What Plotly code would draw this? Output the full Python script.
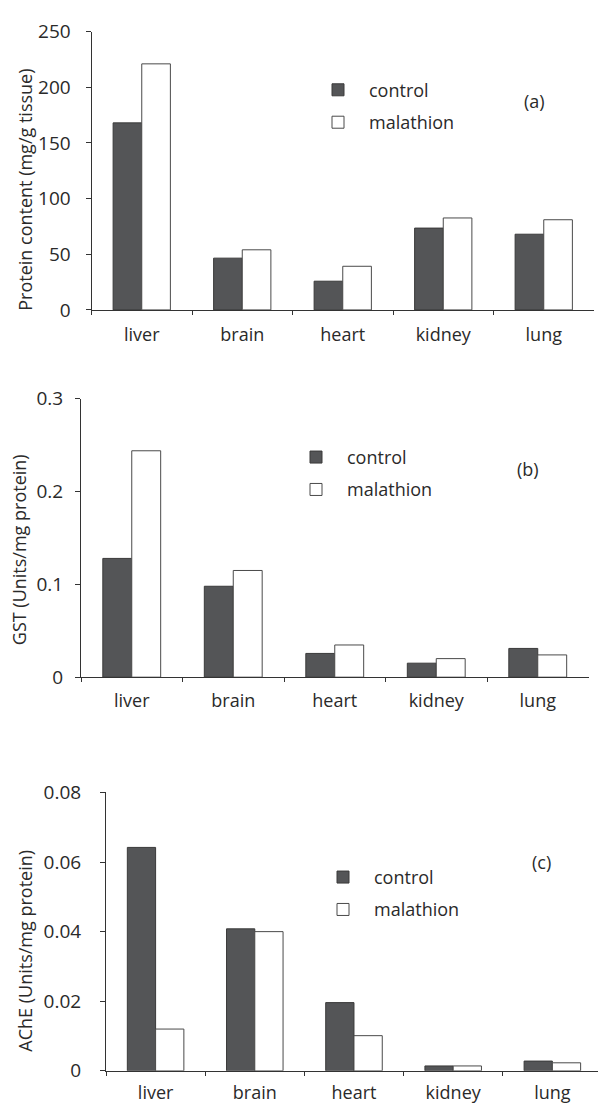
import plotly.graph_objects as go

W, H = 598, 1118

tissues = ["liver", "brain", "heart", "kidney", "lung"]

protein_control = [168, 46.5, 25.8, 73.5, 68]
protein_malathion = [221, 54, 39.2, 82.6, 81]

gst_control = [0.128, 0.098, 0.0256, 0.0151, 0.031]
gst_malathion = [0.244, 0.115, 0.0347, 0.020, 0.024]

ache_control = [0.0642, 0.0408, 0.0196, 0.0014, 0.0028]
ache_malathion = [0.0120, 0.0400, 0.0101, 0.0014, 0.0023]

series_names = ["control", "malathion"]
panel_labels = ["(a)", "(b)", "(c)"]
y_titles = ["Protein content (mg/g tissue)", "GST (Units/mg protein)",
            "AChE (Units/mg protein)"]
y_ticks = [[0, 50, 100, 150, 200, 250], [0, 0.1, 0.2, 0.3],
           [0, 0.02, 0.04, 0.06, 0.08]]

FONT = "Open Sans"
TXT = "#2a2a2a"
CTRL_FILL = "#545557"
CTRL_LINE = "#3a3a3a"
MAL_LINE = "#4a4a4a"
AX = "#333333"


def px(x):
    return x / W


def py(y):
    return 1 - y / H


fig = go.Figure()

panels = [
    (protein_control, protein_malathion),
    (gst_control, gst_malathion),
    (ache_control, ache_malathion),
]

geo = [
    (91.5, 594, 19, 304, 4.5),
    (81, 588.5, 395, 680, 4.5),
    (106, 598, 798, 1083, 4.46),
]
ytick_standoff = [11, 8, 15]
xtick_standoff = [8, 7, 6]
legend_pos = [(307, 60), (285, 436), (312, 866)]
label_pos = [(534, 90), (528, 467), (541, 869)]
ytitle_pos = [(25, 181), (19, 550), (25, 960)]

for i, (ctrl, mal) in enumerate(panels):
    n = "" if i == 0 else str(i + 1)
    lg = "legend" if i == 0 else f"legend{i + 1}"
    fig.add_trace(go.Bar(
        x=tissues, y=ctrl, name=series_names[0], xaxis=f"x{n}", yaxis=f"y{n}",
        marker=dict(color=CTRL_FILL, line=dict(color=CTRL_LINE, width=1)),
        legend=lg, legendgroup=f"c{i}", showlegend=True))
    fig.add_trace(go.Bar(
        x=tissues, y=mal, name=series_names[1], xaxis=f"x{n}", yaxis=f"y{n}",
        marker=dict(color="white", line=dict(color=MAL_LINE, width=1)),
        legend=lg, legendgroup=f"m{i}", showlegend=True))

layout = dict(
    width=W, height=H, margin=dict(l=0, r=0, t=0, b=0),
    paper_bgcolor="white", plot_bgcolor="white",
    barmode="group", bargap=0.43, bargroupgap=0,
    font=dict(family=FONT, size=18, color=TXT),
    annotations=[],
)

for i in range(3):
    n = "" if i == 0 else str(i + 1)
    x0, x1, yt, yz, xend = geo[i]
    ymax = y_ticks[i][-1]
    layout[f"xaxis{n}"] = dict(
        domain=[px(x0), px(x1)], anchor=f"y{n}", type="category",
        range=[-0.5, xend], tickson="boundaries", ticks="outside", ticklen=4,
        tickcolor=AX, showline=True, linecolor=AX, linewidth=1,
        showgrid=False, zeroline=False, ticklabelstandoff=xtick_standoff[i],
        tickfont=dict(size=18, color=TXT), fixedrange=True)
    layout[f"yaxis{n}"] = dict(
        domain=[py(yz), py(yt)], anchor=f"x{n}", range=[0, ymax],
        tickvals=y_ticks[i], ticks="outside", ticklen=5, tickcolor=AX,
        showline=True, linecolor=AX, linewidth=1, showgrid=False,
        zeroline=False, ticklabelstandoff=ytick_standoff[i],
        tickfont=dict(size=19, color=TXT), fixedrange=True)
    lx, ly = legend_pos[i]
    lg = "legend" if i == 0 else f"legend{i + 1}"
    layout[lg] = dict(
        x=px(lx), y=py(ly), xanchor="left", yanchor="top",
        bgcolor="rgba(0,0,0,0)", borderwidth=0, itemwidth=52,
        tracegroupgap=6, font=dict(size=18, color=TXT), itemclick=False,
        itemdoubleclick=False)
    ax, ay = label_pos[i]
    layout["annotations"].append(dict(
        text=panel_labels[i], x=px(ax), y=py(ay), xref="paper", yref="paper",
        xanchor="center", yanchor="middle", showarrow=False,
        font=dict(size=18, color=TXT)))
    tx, ty = ytitle_pos[i]
    layout["annotations"].append(dict(
        text=y_titles[i], x=px(tx), y=py(ty), xref="paper", yref="paper",
        xanchor="center", yanchor="middle", showarrow=False, textangle=-90,
        font=dict(size=18, color=TXT)))

fig.update_layout(**layout)

fig.write_html("out.html", post_script="document.body.style.margin='0';",
               config={"displayModeBar": False})
